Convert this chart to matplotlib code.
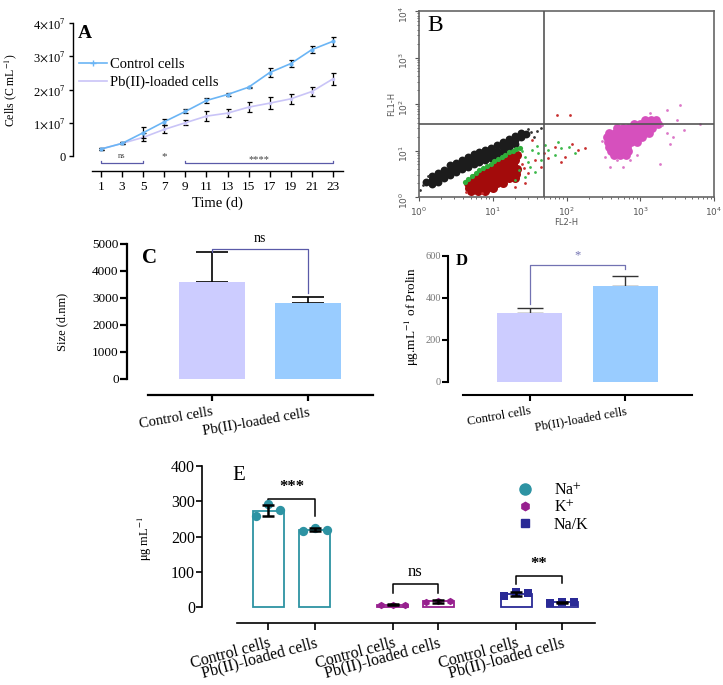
import numpy as np
import matplotlib
matplotlib.use("Agg")
import matplotlib.pyplot as plt
from matplotlib.lines import Line2D

plt.rcParams['font.family'] = ['Liberation Serif', 'DejaVu Sans']
plt.rcParams['mathtext.fontset'] = 'stix'

W, H = 723, 685

# ---------------- data ----------------
# A: growth curve (values in units of 1e7 cells/mL)
days = [1, 3, 5, 7, 9, 11, 13, 15, 17, 19, 21, 23]
ctrl_cells = [0.21, 0.38, 0.70, 1.03, 1.34, 1.67, 1.85, 2.07, 2.51, 2.78, 3.20, 3.45]
ctrl_cells_err = [0.02, 0.03, 0.17, 0.09, 0.06, 0.08, 0.05, 0.02, 0.14, 0.10, 0.10, 0.13]
pb_cells = [0.21, 0.38, 0.56, 0.80, 1.00, 1.20, 1.29, 1.47, 1.59, 1.72, 1.94, 2.32]
pb_cells_err = [0.02, 0.03, 0.12, 0.12, 0.08, 0.14, 0.12, 0.15, 0.17, 0.15, 0.14, 0.18]

# B: flow cytometry dots as rows of (log10 FL1-H, [log10 FL2-H, ...])
black_rows = [(0.33, [0.10]), (0.37, [0.18]), (0.42, [0.26]), (0.50, [0.34]),
              (0.58, [0.42]), (0.64, [0.50]), (0.70, [0.58]), (0.75, [0.66]),
              (0.81, [0.74]), (0.86, [0.82]), (0.90, [0.90]), (0.94, [0.98]),
              (0.99, [1.06]), (1.07, [1.14]), (1.15, [1.22]), (1.22, [1.30]),
              (1.30, [1.38]), (1.36, [1.45]),
              (0.45, [0.18]), (0.51, [0.26]), (0.59, [0.34]), (0.68, [0.42]),
              (0.74, [0.50]), (0.80, [0.58]), (0.86, [0.66]), (0.92, [0.74]),
              (0.97, [0.82]), (1.02, [0.90]), (1.06, [0.98]), (1.11, [1.06]),
              (1.18, [1.14]), (1.25, [1.22]), (1.31, [1.30]), (1.37, [1.38]),
              (0.29, [0.18]), (0.33, [0.26]), (0.41, [0.34]), (0.48, [0.42]),
              (0.54, [0.50]), (0.60, [0.58]), (0.64, [0.66]), (0.70, [0.74]),
              (0.75, [0.82]), (0.79, [0.90]), (0.83, [0.98]), (0.88, [1.06]),
              (0.96, [1.14]), (1.05, [1.22]), (1.13, [1.30])]
black_sparse = [(0.05, 0.25), (1.52, 1.40), (1.48, 1.46), (1.60, 1.42), (0.12, 0.45),
                (1.56, 1.30), (1.66, 1.48), (0.02, 0.15)]
green_line = [(0.62, 0.33), (0.67, 0.39), (0.72, 0.45), (0.77, 0.51), (0.82, 0.57),
              (0.87, 0.62), (0.92, 0.67), (0.97, 0.72), (1.02, 0.77), (1.07, 0.81),
              (1.12, 0.86), (1.17, 0.91), (1.22, 0.96), (1.27, 1.00), (1.32, 1.04),
              (1.37, 1.06)]
green_sparse = [(1.44, 0.87), (1.53, 1.01), (1.62, 0.94), (1.51, 0.65), (1.66, 0.80),
                (1.75, 1.01), (1.84, 0.90), (1.93, 1.05), (1.35, 0.58), (1.57, 0.54),
                (1.71, 1.12), (2.03, 1.08), (1.30, 0.37), (1.44, 0.44), (1.40, 0.98),
                (1.48, 0.76), (1.60, 1.10), (2.12, 0.95), (1.88, 1.18)]
red_rows = [(0.13, [0.70, 0.80, 0.90]),
            (0.20, [0.68, 0.76, 0.84, 0.92, 1.00]),
            (0.30, [0.66, 0.74, 0.82, 0.90, 0.98, 1.06, 1.14]),
            (0.40, [0.74, 0.82, 0.90, 0.98, 1.06, 1.14, 1.22, 1.30]),
            (0.50, [0.84, 0.92, 1.00, 1.08, 1.16, 1.24, 1.32]),
            (0.60, [0.94, 1.02, 1.10, 1.18, 1.26, 1.33]),
            (0.70, [1.04, 1.12, 1.20, 1.28]),
            (0.80, [1.14, 1.22, 1.30]),
            (0.90, [1.25, 1.33])]
red_sparse = [(1.39, 0.72), (1.48, 0.51), (1.57, 0.80), (1.66, 0.65), (1.75, 0.83),
              (1.84, 1.08), (1.98, 0.87), (2.07, 1.15), (2.16, 1.01), (2.25, 1.05),
              (1.44, 0.30), (0.64, 0.10), (0.85, 0.08), (1.53, 1.22), (1.30, 0.22),
              (2.05, 1.76), (1.87, 1.76), (1.42, 0.62), (1.70, 0.95), (1.92, 0.75)]
magenta_rows = [(1.66, [3.06, 3.14, 3.22]),
                (1.57, [2.92, 3.00, 3.08, 3.16, 3.24]),
                (1.48, [2.68, 2.76, 2.84, 2.92, 3.00, 3.08, 3.16]),
                (1.38, [2.58, 2.66, 2.74, 2.82, 2.90, 2.98, 3.06, 3.12]),
                (1.28, [2.55, 2.63, 2.71, 2.79, 2.87, 2.95, 3.03]),
                (1.18, [2.56, 2.64, 2.72, 2.80, 2.88, 2.96]),
                (1.08, [2.58, 2.66, 2.74, 2.82]),
                (0.98, [2.60, 2.68, 2.76, 2.84]),
                (0.90, [2.64, 2.72, 2.80])]
magenta_sparse = [(2.68, 0.79), (2.77, 0.65), (2.86, 0.80), (3.36, 1.37), (3.40, 1.15),
                  (3.36, 1.87), (3.54, 1.98), (3.50, 1.66), (3.81, 1.58), (2.59, 0.65),
                  (3.13, 1.80), (2.52, 0.87), (3.59, 1.44), (3.27, 0.72), (3.30, 1.55),
                  (2.95, 0.90), (3.45, 1.30), (2.48, 1.20)]

# C: particle size
groups = ['Control cells', 'Pb(II)-loaded cells']
size_mean = [3600, 2800]
size_err = [1100, 250]

# D: proline
prolin_mean = [330, 455]
prolin_err = [20, 48]

# E: ions
ion_names = ['Na$^{+}$', 'K$^{+}$', 'Na/K']
ion_mean = [273, 220, 7, 16, 38, 14]
ion_err = [16, 5, 1, 3, 6, 1.5]
ion_points = [[259, 291, 275], [217, 224, 220], [6, 7, 7],
              [15, 18, 16], [32, 44, 40], [13, 15, 14]]

c_ctrl = '#6bb5f5'
c_pb = '#c9c4f7'
c_brk = '#5a5aa8'
ion_colors = ['#2d93a3', '#97208f', '#2a2a96']
ion_markers = ['o', 'h', 's']


def add_ax(x0, y0, x1, y1):
    return fig.add_axes([x0 / W, 1 - y1 / H, (x1 - x0) / W, (y1 - y0) / H])


def px(n):
    return n * 72 / 100.0


fig = plt.figure(figsize=(W / 100, H / 100), dpi=100)

# =============================================================================
# A - growth curve
# =============================================================================
axA = add_ax(92, 23, 343, 171)
axA.errorbar(days, ctrl_cells, yerr=ctrl_cells_err, color=c_ctrl, marker='o', ms=2,
             lw=1.2, ecolor='black', elinewidth=0.9, capsize=1.8, capthick=0.9, zorder=3)
axA.errorbar(days, pb_cells, yerr=pb_cells_err, color=c_pb, marker='o', ms=1.5,
             lw=1.2, ecolor='black', elinewidth=0.9, capsize=1.8, capthick=0.9, zorder=2)
axA.set_xlim(0.15, 23.95)
axA.set_ylim(-0.45, 4.0)
for s in ['top', 'right']:
    axA.spines[s].set_visible(False)
axA.spines['left'].set_position(('outward', px(19)))
axA.spines['left'].set_bounds(0, 4)
axA.set_yticks([0, 1, 2, 3, 4])
axA.set_yticklabels(['0'] + [r'%d$\times$10$^{7}$' % k for k in range(1, 5)], fontsize=9)
axA.set_xticks(days)
axA.tick_params(axis='x', labelsize=9.5, length=4, width=1)
axA.tick_params(axis='y', length=3, width=1, pad=2)
for s in ['left', 'bottom']:
    axA.spines[s].set_linewidth(1)
legA = [Line2D([], [], color=c_ctrl, marker='+', ms=4, lw=1.2),
        Line2D([], [], color=c_pb, lw=1.2)]
axA.legend(legA, groups, loc='upper left', bbox_to_anchor=(72 / W, 1 - 51 / H),
           bbox_transform=fig.transFigure, frameon=False, fontsize=10.5,
           handlelength=1.9, borderpad=0, labelspacing=0.3, handletextpad=0.2)
axA.plot([1, 1, 5, 5], [-0.15, -0.21, -0.21, -0.15], color=c_brk, lw=0.9, clip_on=False)
axA.text(3, -0.13, 'ns', fontsize=6, ha='center', va='bottom', color='#444')
axA.text(7, -0.02, '*', fontsize=8, ha='center', va='center', color='#444')
axA.plot([9, 9, 23, 23], [-0.15, -0.21, -0.21, -0.15], color=c_brk, lw=0.9, clip_on=False)
axA.text(16, -0.24, '****', fontsize=7.5, ha='center', va='bottom', color='#444')
fig.text(78 / W, 1 - 33 / H, 'A', fontsize=14, fontweight='bold', va='center')
fig.text(11 / W, 1 - 90 / H, 'Cells (C mL$^{-1}$)', rotation=90, fontsize=8.5,
         ha='center', va='center')
fig.text(217 / W, 1 - 203 / H, 'Time (d)', fontsize=10.5, ha='center', va='center')

# =============================================================================
# B - flow cytometry dot plot
# =============================================================================
axB = add_ax(419, 11, 714, 197)
axB.set_xscale('log')
axB.set_yscale('log')


def dots(ax, pts, color, size):
    arr = np.array(pts)
    ax.scatter(10 ** arr[:, 0], 10 ** arr[:, 1], s=size, color=color,
               linewidths=0, zorder=2)


def rows(ax, rws, color, size):
    pts = [(x, y) for y, xs in rws for x in xs]
    dots(ax, pts, color, size)


rows(axB, black_rows, '#1c1c1c', 32)
dots(axB, black_sparse, '#333333', 4)
rows(axB, red_rows, '#a30b0b', 42)
dots(axB, green_line, '#2fae3a', 14)
dots(axB, green_sparse, '#3cb84a', 4)
dots(axB, red_sparse, '#c83030', 4)
rows(axB, magenta_rows, '#d650bd', 40)
dots(axB, magenta_sparse, '#dc78c8', 4)
axB.set_xlim(1, 1e4)
axB.set_ylim(1, 1e4)
axB.axvline(49, color='#555555', lw=1.2, zorder=3)
axB.axhline(37, color='#555555', lw=1.2, zorder=3)
for s in axB.spines.values():
    s.set_color('#666666')
    s.set_linewidth(1.2)
axB.tick_params(which='both', colors='#555555', labelsize=6.5,
                labelfontfamily='DejaVu Sans')
axB.tick_params(axis='y', labelrotation=90)
axB.tick_params(which='major', length=3)
axB.tick_params(which='minor', length=1.5)
axB.set_xlabel('FL2-H', fontsize=6, color='#555555', labelpad=0, family='DejaVu Sans')
axB.set_ylabel('FL1-H', fontsize=6, color='#555555', labelpad=1, family='DejaVu Sans')
axB.text(0.03, 0.92, 'B', transform=axB.transAxes, fontsize=17, va='center')

# =============================================================================
# C - size
# =============================================================================
axC = add_ax(148, 244, 373, 395)
axC.bar([0, 1], size_mean, width=0.68, color=['#ccccff', '#99ccff'], zorder=2)
axC.errorbar([0, 1], size_mean, yerr=[[0, 0], size_err], fmt='none', ecolor='black',
             elinewidth=1.2, capsize=px(16), capthick=1.2, zorder=1)
axC.set_xlim(-0.667, 1.677)
axC.set_ylim(-593, 5000)
for s in ['top', 'right']:
    axC.spines[s].set_visible(False)
axC.spines['left'].set_position(('outward', px(21)))
axC.spines['left'].set_bounds(0, 5000)
for s in ['left', 'bottom']:
    axC.spines[s].set_linewidth(1.6)
axC.set_yticks(range(0, 5001, 1000))
axC.tick_params(axis='y', labelsize=9.5, length=5, width=1.6, pad=1)
axC.tick_params(axis='x', length=4, width=1.6)
axC.set_xticks([0, 1])
axC.set_xticklabels(groups, rotation=10, ha='right', rotation_mode='anchor', fontsize=10.5)
axC.plot([0, 0, 1, 1], [4720, 4815, 4815, 3170], color=c_brk, lw=0.9, clip_on=False)
axC.text(0.5, 4950, 'ns', fontsize=10, ha='center', va='bottom')
fig.text(142 / W, 1 - 258 / H, 'C', fontsize=15, fontweight='bold', va='center')
fig.text(62 / W, 1 - 322 / H, 'Size (d.nm)', rotation=90, fontsize=9,
         ha='center', va='center')

# =============================================================================
# D - proline
# =============================================================================
axD = add_ax(463, 256, 692, 395)
axD.bar([0, 1], prolin_mean, width=0.68, color=['#ccccff', '#99ccff'], zorder=2)
axD.errorbar([0, 1], prolin_mean, yerr=[[0, 0], prolin_err], fmt='none', ecolor='#333333',
             elinewidth=1.0, capsize=px(13), capthick=1.0, zorder=1)
axD.set_xlim(-0.693, 1.693)
axD.set_ylim(-62, 600)
for s in ['top', 'right']:
    axD.spines[s].set_visible(False)
axD.spines['left'].set_position(('outward', px(15)))
axD.spines['left'].set_bounds(0, 600)
for s in ['left', 'bottom']:
    axD.spines[s].set_linewidth(1.5)
axD.set_yticks([0, 200, 400, 600])
axD.tick_params(axis='y', labelsize=7.5, length=4, width=1.5, pad=1, labelcolor='#777777')
axD.tick_params(axis='x', length=4, width=1.5)
axD.set_xticks([0, 1])
axD.set_xticklabels(groups, rotation=10, ha='right', rotation_mode='anchor', fontsize=9)
axD.plot([0, 0, 1, 1], [370, 559, 559, 540], color='#7272b2', lw=0.9, clip_on=False)
axD.text(0.5, 575, '*', fontsize=9, ha='center', va='bottom', color='#7272b2')
fig.text(456 / W, 1 - 261 / H, 'D', fontsize=12, fontweight='bold', va='center')
fig.text(412 / W, 1 - 317 / H, r'$\mathrm{\mu}$g.mL$^{-1}$ of Prolin', rotation=90,
         fontsize=9.5, ha='center', va='center')

# =============================================================================
# E - ions
# =============================================================================
axE = add_ax(237, 466, 595, 623)
pos = [0, 1, 2.66, 3.62, 5.28, 6.26]
jitter = [-0.25, 0, 0.25]
for i, x in enumerate(pos):
    k = i // 2
    axE.bar(x, ion_mean[i], width=0.66, facecolor='white', edgecolor=ion_colors[k],
            lw=1.3, zorder=2)
    axE.scatter([x + j for j in jitter], ion_points[i], s=45 if k == 0 else 28,
                marker=ion_markers[k], color=ion_colors[k], zorder=3, linewidths=0)
    axE.errorbar(x, ion_mean[i], yerr=ion_err[i], fmt='none', ecolor='black',
                 elinewidth=1.8, capsize=px(6), capthick=1.8, zorder=4)
axE.set_xlim(-0.66, 6.96)
axE.set_ylim(-45, 400)
for s in ['top', 'right']:
    axE.spines[s].set_visible(False)
axE.spines['left'].set_position(('outward', px(35)))
axE.spines['left'].set_bounds(0, 400)
for s in ['left', 'bottom']:
    axE.spines[s].set_linewidth(1.2)
axE.set_yticks(range(0, 401, 100))
axE.tick_params(axis='y', labelsize=11.5, length=4, width=1.2, pad=1)
axE.tick_params(axis='x', length=5, width=1.2)
axE.set_xticks(pos)
axE.set_xticklabels(groups * 3, rotation=15, ha='right', rotation_mode='anchor',
                    fontsize=11.5)
brackets = [(0, 1, 297, 258, 306, '***', 318),
            (2.66, 3.62, 40, 40, 65, 'ns', 76),
            (5.28, 6.26, 65, 68, 89, '**', 100)]
for xa, xb, ya, yb, ytop, lab, yt in brackets:
    axE.plot([xa, xa, xb, xb], [ya, ytop, ytop, yb], color='black', lw=1.1)
    axE.text((xa + xb) / 2, yt, lab, fontsize=12, ha='center', va='bottom',
             fontweight='bold' if '*' in lab else 'normal')
handles = [Line2D([], [], ls='none', marker=ion_markers[k], color=ion_colors[k],
                  ms=8 if k == 0 else 6) for k in range(3)]
axE.legend(handles, ion_names, loc='upper left', bbox_to_anchor=(501 / W, 1 - 475 / H),
           bbox_transform=fig.transFigure, frameon=False, fontsize=11.5,
           handletextpad=0.8, labelspacing=0.05, borderpad=0)
fig.text(232 / W, 1 - 475 / H, 'E', fontsize=15, va='center')
fig.text(145 / W, 1 - 538 / H, r'$\mathrm{\mu}$g mL$^{-1}$', rotation=90, fontsize=9,
         ha='center', va='center')

fig.savefig('out.png', dpi=100)
